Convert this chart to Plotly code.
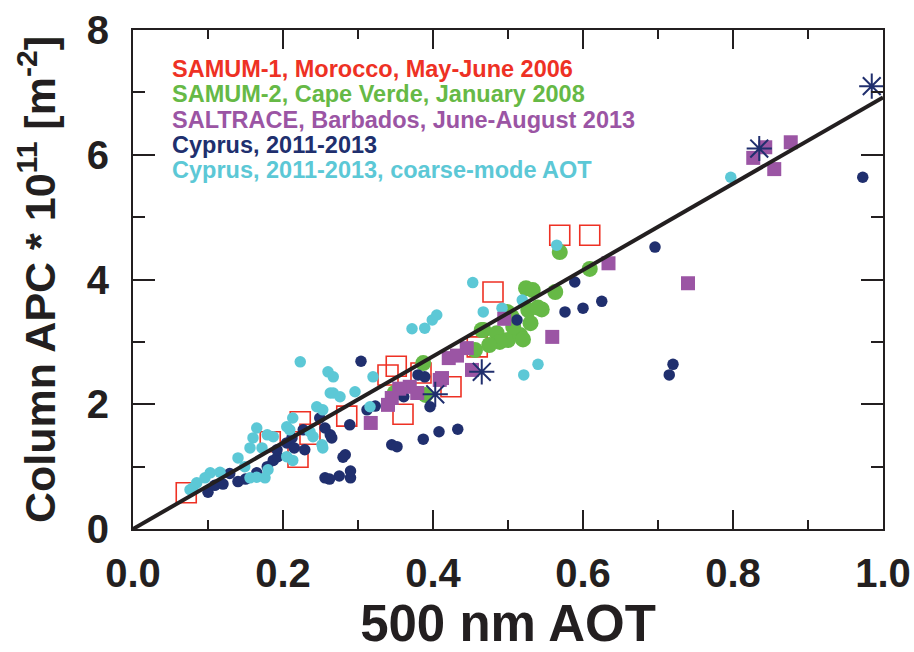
import plotly.graph_objects as go

# ---------------- data ----------------
samum1_x = [0.071, 0.183, 0.220, 0.223, 0.236, 0.285, 0.340, 0.351, 0.360, 0.384, 0.424, 0.459, 0.480, 0.569, 0.609]
samum1_y = [0.58, 1.40, 1.15, 1.72, 1.52, 1.81, 2.47, 2.61, 1.84, 2.50, 2.28, 2.92, 3.80, 4.71, 4.71]

samum2_x = [0.569, 0.609, 0.524, 0.533, 0.563, 0.527, 0.545, 0.499, 0.467, 0.485, 0.500, 0.516,
            0.520, 0.489, 0.456, 0.507, 0.387, 0.390, 0.465, 0.349, 0.540, 0.475, 0.530, 0.505]
samum2_y = [4.44, 4.17, 3.86, 3.83, 3.80, 3.51, 3.52, 3.48, 3.19, 3.14, 3.03, 3.11,
            3.04, 3.00, 2.87, 3.24, 2.66, 2.15, 3.19, 2.18, 3.55, 2.95, 3.30, 3.40]

saltrace_x = [0.843, 0.827, 0.855, 0.877, 0.634, 0.740, 0.495, 0.559, 0.445, 0.421, 0.452, 0.412,
              0.432, 0.409, 0.369, 0.345, 0.340, 0.317, 0.379, 0.355]
saltrace_y = [6.12, 5.95, 5.77, 6.20, 4.26, 3.94, 3.37, 3.08, 2.90, 2.74, 2.55, 2.42,
              2.78, 2.39, 2.28, 2.10, 1.99, 1.70, 2.18, 2.25]

cyprus_x = [0.100, 0.109, 0.129, 0.140, 0.165, 0.179, 0.187, 0.193, 0.192, 0.205, 0.212, 0.227,
            0.229, 0.249, 0.256, 0.256, 0.263, 0.265, 0.289, 0.283, 0.345, 0.352, 0.387, 0.408,
            0.433, 0.304, 0.380, 0.389, 0.396, 0.323, 0.312, 0.361, 0.696, 0.589, 0.576, 0.600,
            0.625, 0.512, 0.720, 0.715, 0.973, 0.275, 0.290, 0.290, 0.262, 0.120, 0.150, 0.215, 0.280]
cyprus_y = [0.59, 0.70, 0.89, 0.76, 0.90, 1.00, 1.10, 1.16, 1.27, 1.38, 1.46, 1.59,
            1.27, 1.78, 0.82, 1.62, 1.51, 1.46, 1.67, 1.19, 1.35, 1.32, 1.44, 1.56,
            1.60, 2.69, 2.47, 2.44, 1.96, 1.97, 1.91, 2.12, 4.52, 3.96, 3.48, 3.54,
            3.65, 3.35, 2.64, 2.47, 5.64, 0.85, 0.82, 0.93, 0.80, 0.72, 0.80, 1.30, 1.15]

coarse_x = [0.223, 0.260, 0.263, 0.245, 0.253, 0.165, 0.160, 0.156, 0.172, 0.179, 0.187, 0.205,
            0.209, 0.213, 0.205, 0.213, 0.236, 0.240, 0.252, 0.253, 0.140, 0.149, 0.156, 0.165,
            0.176, 0.180, 0.116, 0.103, 0.096, 0.085, 0.080, 0.076, 0.267, 0.267, 0.276, 0.296,
            0.320, 0.316, 0.372, 0.389, 0.399, 0.405, 0.453, 0.467, 0.565, 0.519, 0.492, 0.540,
            0.521, 0.797]
coarse_y = [2.68, 2.52, 2.18, 1.96, 1.91, 1.62, 1.46, 1.30, 1.30, 1.51, 1.48, 1.64,
            1.59, 1.78, 1.16, 1.10, 1.56, 1.48, 1.35, 1.30, 1.14, 1.00, 0.82, 0.83,
            0.82, 0.95, 0.91, 0.90, 0.82, 0.74, 0.66, 0.63, 2.44, 2.18, 2.12, 2.20,
            2.44, 1.96, 3.21, 3.22, 3.35, 3.43, 3.95, 3.48, 4.55, 3.67, 3.54, 2.64,
            2.47, 5.64]

star_x = [0.403, 0.465, 0.835, 0.985]
star_y = [2.16, 2.52, 6.10, 7.10]

fit_slope = 6.92
fit_x = [0.0, 1.0]

x_ticks = [0.0, 0.2, 0.4, 0.6, 0.8, 1.0]
x_ticklabels = ["0.0", "0.2", "0.4", "0.6", "0.8", "1.0"]
y_ticks = [0, 2, 4, 6, 8]
y_ticklabels = ["0", "2", "4", "6", "8"]

legend_labels = [
    "SAMUM-1, Morocco, May-June 2006",
    "SAMUM-2, Cape Verde, January 2008",
    "SALTRACE, Barbados, June-August 2013",
    "Cyprus, 2011-2013",
    "Cyprus, 2011-2013, coarse-mode AOT",
]

# ---------------- style ----------------
RED = "#ee3124"
GREEN = "#66b946"
PURPLE = "#9b55a4"
NAVY = "#202f6e"
CYAN = "#5cc8d6"
INK = "#231f20"
FONT = "Liberation Sans"

fig = go.Figure()

fig.add_trace(go.Scatter(x=samum1_x, y=samum1_y, mode="markers",
                         marker=dict(symbol="square-open", size=20, color=RED, line=dict(width=1.6, color=RED))))
fig.add_trace(go.Scatter(x=samum2_x, y=samum2_y, mode="markers",
                         marker=dict(symbol="circle", size=16, color=GREEN, line=dict(width=0))))
fig.add_trace(go.Scatter(x=cyprus_x, y=cyprus_y, mode="markers",
                         marker=dict(symbol="circle", size=11.5, color=NAVY, line=dict(width=0))))
fig.add_trace(go.Scatter(x=coarse_x, y=coarse_y, mode="markers",
                         marker=dict(symbol="circle", size=11.5, color=CYAN, line=dict(width=0))))
fig.add_trace(go.Scatter(x=saltrace_x, y=saltrace_y, mode="markers",
                         marker=dict(symbol="square", size=14, color=PURPLE, line=dict(width=0))))
fig.add_trace(go.Scatter(x=fit_x, y=[fit_slope * v for v in fit_x], mode="lines",
                         line=dict(color=INK, width=4)))
fig.add_trace(go.Scatter(x=star_x, y=star_y, mode="markers", cliponaxis=False,
                         marker=dict(symbol="asterisk-open", size=21, color=NAVY,
                                     line=dict(width=2, color=NAVY))))

legend_colors = [RED, GREEN, PURPLE, NAVY, CYAN]
legend_y = [0.922, 0.872, 0.820, 0.770, 0.719]
for txt, col, yy in zip(legend_labels, legend_colors, legend_y):
    fig.add_annotation(x=0.049, y=yy, xref="paper", yref="paper", text=txt, showarrow=False,
                       xanchor="left", yanchor="middle",
                       font=dict(family=FONT, size=23.5, color=col, weight="bold"))

axis_common = dict(showgrid=False, zeroline=False, showline=True, linewidth=2, linecolor=INK,
                   mirror="ticks", ticks="inside", tickwidth=2, tickcolor=INK, automargin=False,
                   tickfont=dict(family=FONT, size=40, color=INK, weight="bold"))

fig.update_xaxes(range=[0, 1], tickvals=x_ticks, ticktext=x_ticklabels, ticklen=19,
                 ticklabelstandoff=8,
                 minor=dict(dtick=0.1, ticks="inside", ticklen=9, tickwidth=2, tickcolor=INK),
                 title=dict(text="500 nm AOT", font=dict(family=FONT, size=51, color=INK, weight="bold"),
                            standoff=20),
                 **axis_common)
fig.update_yaxes(range=[0, 8], tickvals=y_ticks, ticktext=y_ticklabels, ticklen=22,
                 ticklabelstandoff=14,
                 minor=dict(dtick=1, ticks="inside", ticklen=12, tickwidth=2, tickcolor=INK),
                 title=dict(text="Column APC * 10<sup>11</sup> [m<sup>-2</sup>]",
                            font=dict(family=FONT, size=43, color=INK, weight="bold"), standoff=18),
                 **axis_common)

fig.update_layout(width=914, height=652, margin=dict(l=133, r=31, t=30, b=123),
                  paper_bgcolor="white", plot_bgcolor="white", showlegend=False)

fig.write_html("out.html")
